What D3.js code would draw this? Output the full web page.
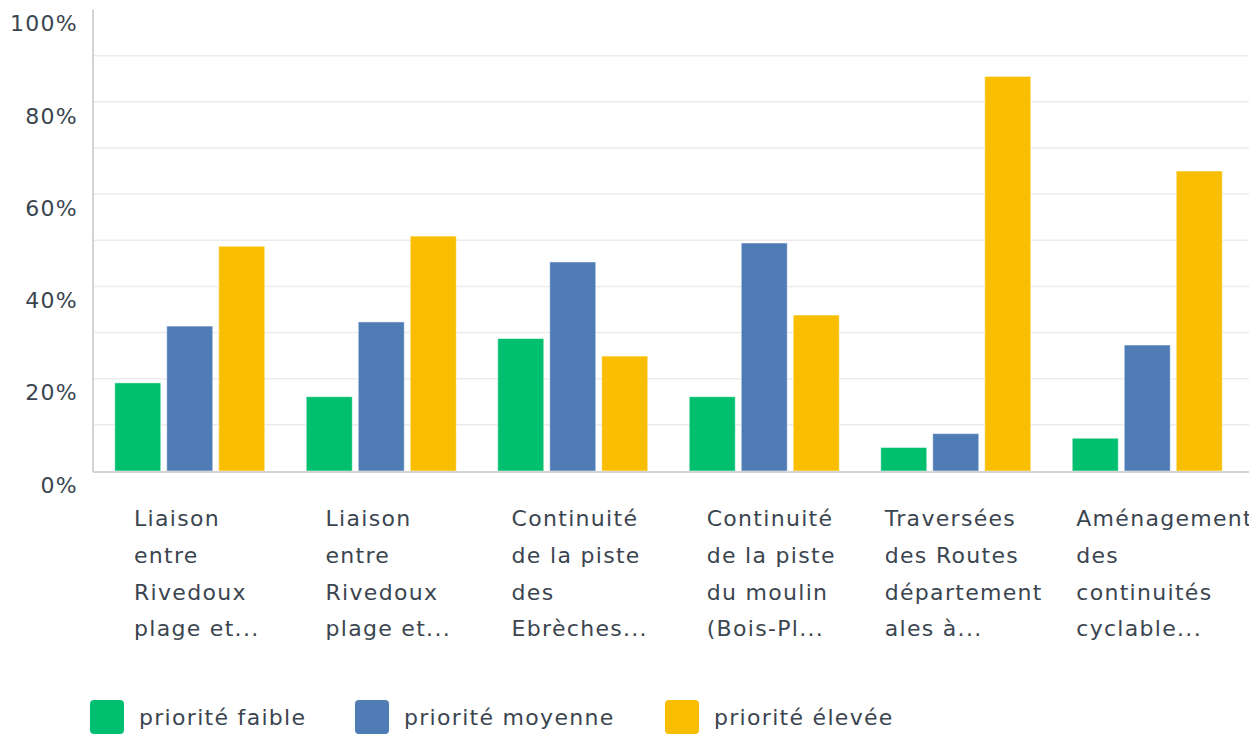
<!DOCTYPE html>
<html><head><meta charset="utf-8">
<script src="https://cdn.jsdelivr.net/npm/d3@7/dist/d3.min.js"></script>
<style>body{margin:0;background:#fff;} text{font-family:"DejaVu Sans",sans-serif;fill:#3b4550;letter-spacing:1.3px;}</style>
</head><body>
<svg id="c" width="1249" height="734"></svg>
<script>
const categories = ["Liaison entre Rivedoux plage et...", "Liaison entre Rivedoux plage et...", "Continuité de la piste des Ebrèches...", "Continuité de la piste du moulin (Bois-Pl...", "Traversées des Routes départementales à...", "Aménagements des continuités cyclable..."];
const categoryLines = [
  ["Liaison","entre","Rivedoux","plage et..."],
  ["Liaison","entre","Rivedoux","plage et..."],
  ["Continuité","de la piste","des","Ebrèches..."],
  ["Continuité","de la piste","du moulin","(Bois-Pl..."],
  ["Traversées","des Routes","département","ales à..."],
  ["Aménagement","des","continuités","cyclable..."]
];
const seriesNames = ["priorité faible","priorité moyenne","priorité élevée"];
const seriesColors = ["#00bf6f","#507cb6","#f9be00"];
const faible  = [19.1, 16.1, 28.7, 16.1, 5.1, 7.1];
const moyenne = [31.4, 32.3, 45.3, 49.4, 8.1, 27.3];
const elevee  = [48.7, 50.9, 24.9, 33.8, 85.5, 65.0];
const yTicks = [0,20,40,60,80,100];
const yGrid = [10,20,30,40,50,60,70,80,90];

const series = [faible, moyenne, elevee];
const svg = d3.select("#c");
const pLeft = 93, pRight = 1242, pTop = 9.5, pBottom = 471;

const x = d3.scaleBand().domain(d3.range(categories.length)).range([pLeft, pRight]).paddingInner(0).paddingOuter(0);
const xs = d3.scaleBand().domain(d3.range(series.length)).range([0, 150]).paddingInner(0.115);
const y = d3.scaleLinear().domain([0,100]).range([pBottom, pTop]);

// gridlines
svg.append("g").selectAll("line").data(yGrid).join("line")
  .attr("x1", pLeft).attr("x2", 1249).attr("y1", d=>y(d)).attr("y2", d=>y(d))
  .attr("stroke", "#ebebeb").attr("stroke-width", 1.5);

// bars
const groups = svg.append("g").selectAll("g").data(categories).join("g")
  .attr("transform", (d,i)=>`translate(${x(i) + x.bandwidth()/2 - 75 + 1},0)`);
groups.selectAll("rect").data((d,i)=>series.map((s,j)=>({j, v:s[i]}))).join("rect")
  .attr("x", d=>xs(d.j)).attr("width", xs.bandwidth())
  .attr("y", d=>y(d.v)).attr("height", d=>pBottom - y(d.v))
  .attr("fill", d=>seriesColors[d.j])
  .attr("stroke", "rgba(255,255,255,0.5)").attr("stroke-width", 1);

// axes lines
svg.append("line").attr("x1", pLeft).attr("x2", pLeft).attr("y1", pTop).attr("y2", pBottom+1)
  .attr("stroke", "#d4d4d4").attr("stroke-width", 2);
svg.append("line").attr("x1", pLeft).attr("x2", 1249).attr("y1", pBottom+1).attr("y2", pBottom+1)
  .attr("stroke", "#d4d4d4").attr("stroke-width", 2);

// y labels
svg.append("g").selectAll("text").data(yTicks).join("text")
  .attr("x", 78).attr("y", d=>y(d)+14).attr("dy","0.35em")
  .attr("text-anchor","end").style("font-size","22px")
  .text(d=>d+"%");

// x labels
const labs = svg.append("g").selectAll("g").data(categoryLines).join("g");
labs.each(function(lines, i){
  const g = d3.select(this);
  const ts = g.selectAll("text").data(lines).join("text")
    .attr("y", (d,k)=>526 + k*36.8).style("font-size","22px").text(d=>d);
  let mw = 0; ts.each(function(){ mw = Math.max(mw, this.getComputedTextLength()); });
  mw = Math.min(mw, 156);
  const cx = x(i) + x.bandwidth()/2 + 8;
  ts.attr("x", cx - mw/2);
});

// legend
const lg = svg.append("g");
const legX = [90, 355, 665];
seriesNames.forEach((n,j)=>{
  lg.append("rect").attr("x", legX[j]).attr("y", 700).attr("width", 34).attr("height", 34)
    .attr("rx", 4).attr("fill", seriesColors[j]);
  lg.append("text").attr("x", legX[j]+49).attr("y", 717).attr("dy","0.35em")
    .style("font-size","22px").text(n);
});
</script>
</body></html>
